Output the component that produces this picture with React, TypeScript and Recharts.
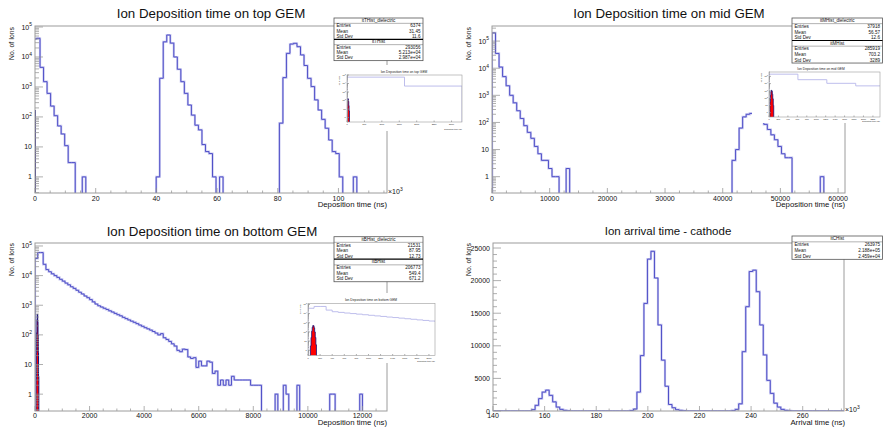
import React from 'react';
import { ComposedChart, Line, Area, XAxis, YAxis } from 'recharts';

const FONT = '"Liberation Sans", Arial, Helvetica, sans-serif';
const HIST = '#5050c8';
const HALO = '#c6c6ef';
const LAV = '#b7b7ea';
const NAVY = '#12127a';
const RED = '#ff0000';
const AXIS = '#8c8c8c';
const FRAME = '#9c9c9c';
const FLOOR = 1e-3;

// top GEM, x in 10^3 ns
const topBinStart = -0.66;
const topBinWidth = 1.16;
const topCounts = [
  40000, 42000, 4500, 1500, 610, 230, 110, 50, 27, 11,
  3, 3, 0, 0, 1, 0, 0, 0, 0, 0,
  0, 0, 0, 0, 0, 0, 0, 0, 0, 0,
  0, 0, 0, 0, 0, 1, 1950, 32000, 54000, 29000,
  10000, 3900, 1500, 610, 250, 115, 53, 37, 12, 7,
  6, 1, 0, 1, 0, 0, 0, 0, 0, 0,
  0, 0, 0, 0, 0, 0, 0, 0, 0, 0,
  62, 2050, 13200, 27000, 28600, 22000, 11700, 5200, 1940, 1030,
  370, 170, 83, 42, 17, 7, 6, 1, 0, 0,
  0, 1, 0, 0, 0, 0, 0, 0, 0, 0,
];
// dielectric part, x in ns
const topDielStart = 0;
const topDielWidth = 10;
const topDiel = [40, 110, 170, 150, 80, 25, 6];
// inset of the top pad (coarser binning, x in ns)
const topInsetStart = 0;
const topInsetWidth = 1650;
const topInsetCounts = [56000, 5000];

// mid GEM, x in ns
const midBinStart = 0;
const midBinWidth = 612;
const midCounts = [
  200000, 35000, 11000, 4900, 2250, 1000, 530, 270, 140, 76,
  43, 26, 13, 7, 4, 4, 2, 1, 1, 0,
  0, 2, 0, 0, 0, 0, 0, 0, 0, 0,
  0, 0, 0, 0, 0, 0, 0, 0, 0, 0,
  0, 0, 0, 0, 0, 0, 0, 0, 0, 0,
  0, 0, 0, 0, 0, 0, 0, 0, 0, 0,
  0, 0, 0, 0, 0, 0, 0, 0, 4, 10,
  62, 160, 200, 215, 250, 280, 180, 85, 55, 35,
  23, 13, 7, 5, 5, 0, 0, 0, 0, 0,
  0, 0, 0, 1, 0, 0, 0, 0, 0, 0,
];
const midDielStart = 20;
const midDielWidth = 10;
const midDiel = [30, 250, 800, 1200, 900, 350, 80, 10];

// bottom GEM, x in ns
const bottomBinStart = 0;
const bottomBinWidth = 100;
const bottomCounts = [
  38000, 60000, 60000, 24000, 16000, 13500, 11500, 10000, 8700, 7500,
  6500, 5600, 4900, 4200, 3700, 3200, 2750, 2400, 2050, 1800,
  1550, 1300, 1100, 960, 870, 790, 720, 650, 590, 530,
  480, 440, 390, 355, 320, 290, 265, 240, 215, 195,
  175, 160, 145, 130, 115, 100, 110, 80, 70, 60,
  50, 42, 30, 27, 33, 32, 18, 16, 17, 8,
  13, 9, 9, 13, 12, 5, 6, 2, 3, 2,
  3, 2, 4, 3, 3, 3, 3, 3, 3, 2,
  2, 2, 2, 0, 0, 0, 0, 0, 1, 0,
  0, 2, 1, 0, 0, 0, 2, 0, 0, 0,
  0, 0, 0, 0, 0, 0, 0, 0, 1, 1,
  0, 0, 0, 0, 0, 0, 0, 0, 0, 1,
  0, 0, 0, 0, 0, 0, 0, 0, 0,
];
const bottomDielStart = 40;
const bottomDielWidth = 10;
const bottomDiel = [3, 25, 120, 330, 500, 470, 280, 100, 25, 4];

// cathode, x in 10^3 ns
const cathBinStart = 140;
const cathBinWidth = 1.36;
const cathodeCounts = [
  0, 0, 0, 0, 0, 0, 0, 0, 0, 0,
  0, 200, 870, 1900, 2900, 3200, 2400, 1400, 600, 250,
  100, 30, 0, 0, 0, 0, 0, 0, 0, 0,
  0, 0, 0, 0, 0, 0, 0, 0, 0, 60,
  300, 2900, 8500, 16500, 23300, 24500, 20400, 13200, 7800, 3800,
  1000, 500, 200, 100, 30, 0, 0, 0, 0, 0,
  0, 0, 0, 0, 0, 0, 0, 0, 50, 250,
  1100, 9100, 16000, 21400, 21600, 18300, 13200, 8600, 4700, 2700,
  1200, 600, 250, 100, 30, 0, 0, 0, 0, 0,
  0, 0, 0, 0, 0, 0, 0, 0, 0, 0,
];

const topXTicks = [0, 20, 40, 60, 80, 100];
const midXTicks = [0, 10000, 20000, 30000, 40000, 50000, 60000];
const bottomXTicks = [0, 2000, 4000, 6000, 8000, 10000, 12000];
const cathXTicks = [140, 160, 180, 200, 220, 240, 260];
const cathYTicks = [0, 5000, 10000, 15000, 20000, 25000];
const logYTicks = [1, 10, 100, 1000, 10000, 100000];

const statsTop = [
  { title: 'itTHist_dielectric', rows: [['Entries', '6374'], ['Mean', '31.45'], ['Std Dev', '11.6']] },
  { title: 'itTHist', rows: [['Entries', '293056'], ['Mean', '5.213e+04'], ['Std Dev', '2.987e+04']] },
];
const statsMid = [
  { title: 'itMHist_dielectric', rows: [['Entries', '37918'], ['Mean', '56.57'], ['Std Dev', '12.6']] },
  { title: 'itMHist', rows: [['Entries', '285919'], ['Mean', '703.2'], ['Std Dev', '3289']] },
];
const statsBottom = [
  { title: 'itBHist_dielectric', rows: [['Entries', '21531'], ['Mean', '87.95'], ['Std Dev', '12.73']] },
  { title: 'itBHist', rows: [['Entries', '206773'], ['Mean', '549.4'], ['Std Dev', '671.2']] },
];
const statsCath = [
  { title: 'itCHist', rows: [['Entries', '263975'], ['Mean', '2.188e+05'], ['Std Dev', '2.459e+04']] },
];

type Pt = { x: number; y: number };

function steps(start: number, width: number, counts: number[], scale = 1, floor = FLOOR): Pt[] {
  const pts: Pt[] = [{ x: start * scale, y: floor }];
  counts.forEach((c, i) => pts.push({ x: (start + i * width) * scale, y: c > 0 ? c : floor }));
  pts.push({ x: (start + counts.length * width) * scale, y: floor });
  return pts;
}

function linMinors(a: number, b: number, s: number, majors: number[]) {
  const out: number[] = [];
  for (let i = 0; a + i * s <= b + 1e-9; i++) {
    const v = +(a + i * s).toFixed(6);
    if (!majors.includes(v)) out.push(v);
  }
  return out;
}

function logMinors(lo: number, hi: number) {
  const out: number[] = [];
  for (let e = -1; e <= 6; e++)
    for (let m = 2; m <= 9; m++) {
      const v = +(m * Math.pow(10, e)).toPrecision(3);
      if (v >= lo && v <= hi) out.push(v);
    }
  return out;
}

type TickCfg = { edge: number; majors: number[]; font: number; majorLen: number; minorLen: number; off: number; log?: boolean };

function logLabel(v: number, font: number) {
  if (v === 1) return '1';
  if (v === 10) return '10';
  const e = Math.round(Math.log10(v));
  return [
    <tspan key="b">10</tspan>,
    <tspan key="e" dy={-font * 0.45} fontSize={font * 0.7}>{e}</tspan>,
  ];
}

function YTick(props: any) {
  const { y, payload, cfg } = props as { y: number; payload: { value: number }; cfg: TickCfg };
  const v = payload.value;
  const major = cfg.majors.includes(v);
  const len = major ? cfg.majorLen : cfg.minorLen;
  return (
    <g>
      {len > 0 && <line x1={cfg.edge} x2={cfg.edge + len} y1={y} y2={y} stroke={AXIS} strokeWidth={0.7} />}
      {major && (
        <text x={cfg.edge - cfg.off} y={y + cfg.font * 0.36} textAnchor="end" fontSize={cfg.font} fontFamily={FONT} fill="#111">
          {cfg.log ? logLabel(v, cfg.font) : v}
        </text>
      )}
    </g>
  );
}

function XTick(props: any) {
  const { x, payload, cfg } = props as { x: number; payload: { value: number }; cfg: TickCfg };
  const v = payload.value;
  const major = cfg.majors.includes(v);
  const len = major ? cfg.majorLen : cfg.minorLen;
  return (
    <g>
      {len > 0 && <line x1={x} x2={x} y1={cfg.edge} y2={cfg.edge - len} stroke={AXIS} strokeWidth={0.7} />}
      {major && (
        <text x={x} y={cfg.edge + cfg.off} textAnchor="middle" fontSize={cfg.font} fontFamily={FONT} fill="#111">
          {v}
        </text>
      )}
    </g>
  );
}

type Box = { l: number; t: number; r: number; b: number };

type PanelProps = {
  left: number; top: number; width: number; height: number; plot: Box;
  xDomain: [number, number]; xMajors: number[]; xMinorStep: number;
  yDomain: [number, number]; yLog: boolean; yMajors: number[]; yMinorStep?: number;
  xOff: number; main: Pt[]; diel?: Pt[];
};

function Panel(p: PanelProps) {
  const L = p.plot.l - p.left, T = p.plot.t - p.top, R = p.plot.r - p.left, B = p.plot.b - p.top;
  const xt = [...p.xMajors, ...linMinors(p.xDomain[0], p.xDomain[1], p.xMinorStep, p.xMajors)];
  const yMinor = p.yLog
    ? logMinors(p.yDomain[0], p.yDomain[1])
    : linMinors(p.yDomain[0], p.yDomain[1], p.yMinorStep || 1, p.yMajors);
  const yt = [...p.yMajors, ...yMinor];
  const xcfg: TickCfg = { edge: B, majors: p.xMajors, font: 7, majorLen: 5, minorLen: 2.5, off: p.xOff };
  const ycfg: TickCfg = { edge: L, majors: p.yMajors, font: 7, majorLen: 8, minorLen: 4, off: 3, log: p.yLog };
  return (
    <div style={{ position: 'absolute', left: p.left, top: p.top }}>
      <ComposedChart width={p.width} height={p.height} margin={{ top: T, right: p.width - R, bottom: 0, left: 0 }}>
        <XAxis type="number" dataKey="x" domain={p.xDomain} allowDataOverflow ticks={xt} interval={0}
          height={p.height - B} axisLine={false} tickLine={false} tick={(t: any) => <XTick {...t} cfg={xcfg} />} />
        <YAxis type="number" scale={p.yLog ? 'log' : 'linear'} domain={p.yDomain} allowDataOverflow ticks={yt} interval={0}
          width={L} axisLine={false} tickLine={false} tick={(t: any) => <YTick {...t} cfg={ycfg} />} />
        <Line data={p.main} dataKey="y" type="stepAfter" stroke={HALO} strokeWidth={2.2} dot={false} isAnimationActive={false} />
        <Line data={p.main} dataKey="y" type="stepAfter" stroke={HIST} strokeWidth={1} dot={false} isAnimationActive={false} />
        {p.diel && (
          <Area data={p.diel} dataKey="y" type="stepAfter" stroke={NAVY} strokeWidth={1} fill={RED} fillOpacity={1}
            baseValue={p.yDomain[0]} isAnimationActive={false} />
        )}
      </ComposedChart>
    </div>
  );
}

type InsetProps = {
  left: number; top: number; width: number; height: number; frame: Box; title: string; titleX: number;
  xDomain: [number, number]; xMajors: number[]; yDomain: [number, number]; main: Pt[]; diel: Pt[];
};

function Inset(p: InsetProps) {
  const L = p.frame.l - p.left, T = p.frame.t - p.top, R = p.frame.r - p.left, B = p.frame.b - p.top;
  const ym = logYTicks.filter((v) => v >= p.yDomain[0] && v <= p.yDomain[1]);
  const xcfg: TickCfg = { edge: B, majors: p.xMajors, font: 2.2, majorLen: 1.5, minorLen: 0, off: 3 };
  const ycfg: TickCfg = { edge: L, majors: ym, font: 2.2, majorLen: 2, minorLen: 1, off: 1.2, log: true };
  return (
    <div style={{ position: 'absolute', left: p.left, top: p.top, width: p.width, height: p.height, background: '#fff' }}>
      <ComposedChart width={p.width} height={p.height} margin={{ top: T, right: p.width - R, bottom: 0, left: 0 }}>
        <XAxis type="number" dataKey="x" domain={p.xDomain} allowDataOverflow ticks={p.xMajors} interval={0}
          height={p.height - B} axisLine={false} tickLine={false} tick={(t: any) => <XTick {...t} cfg={xcfg} />} />
        <YAxis type="number" scale="log" domain={p.yDomain} allowDataOverflow
          ticks={[...ym, ...logMinors(p.yDomain[0], p.yDomain[1])]} interval={0}
          width={L} axisLine={false} tickLine={false} tick={(t: any) => <YTick {...t} cfg={ycfg} />} />
        <Line data={p.main} dataKey="y" type="stepAfter" stroke={LAV} strokeWidth={0.9} dot={false} isAnimationActive={false} />
        <Area data={p.diel} dataKey="y" type="stepAfter" stroke={NAVY} strokeWidth={0.8} fill={RED} fillOpacity={1}
          baseValue={p.yDomain[0]} isAnimationActive={false} />
      </ComposedChart>
      <svg style={{ position: 'absolute', left: 0, top: 0, pointerEvents: 'none' }} width={p.width} height={p.height}>
        <rect x={L} y={T} width={R - L} height={B - T} fill="none" stroke={FRAME} strokeWidth={0.6} />
        <text x={p.titleX - p.left} y={T - 2.5} textAnchor="middle" fontSize={3.3} fontFamily={FONT} fill="#222">{p.title}</text>
        <text transform={`translate(${L - 7},${T + 1}) rotate(-90)`} textAnchor="end" fontSize={2} fontFamily={FONT} fill="#222">No. of Ions</text>
        <text x={R} y={p.height - 0.6} textAnchor="end" fontSize={2} fontFamily={FONT} fill="#222">Deposition time (ns)</text>
      </svg>
    </div>
  );
}

type Section = { title: string; rows: string[][] };

function StatsBox({ x, y, w, rowH, sections }: { x: number; y: number; w: number; rowH: number; sections: Section[] }) {
  const els: React.ReactNode[] = [];
  let cy = y;
  const fs = 4.6;
  sections.forEach((s, si) => {
    if (si > 0) els.push(<line key={`d${si}`} x1={x} x2={x + w} y1={cy} y2={cy} stroke="#000" strokeWidth={1.2} />);
    els.push(<text key={`h${si}`} x={x + w / 2} y={cy + rowH * 0.76} textAnchor="middle" fontSize={fs}>{s.title}</text>);
    cy += rowH;
    els.push(<line key={`u${si}`} x1={x} x2={x + w} y1={cy} y2={cy} stroke="#666" strokeWidth={0.5} />);
    s.rows.forEach(([k, v], ri) => {
      els.push(<text key={`k${si}${ri}`} x={x + 2.5} y={cy + rowH * 0.76} fontSize={fs}>{k}</text>);
      els.push(<text key={`v${si}${ri}`} x={x + w - 2.5} y={cy + rowH * 0.76} textAnchor="end" fontSize={fs}>{v}</text>);
      cy += rowH;
    });
  });
  return (
    <g fontFamily={FONT} fill="#111">
      <rect x={x} y={y} width={w} height={cy - y} fill="#fff" stroke="#555" strokeWidth={0.8} />
      {els}
    </g>
  );
}

function YTitle({ x, y }: { x: number; y: number }) {
  return (
    <text transform={`translate(${x},${y}) rotate(-90)`} textAnchor="end" fontSize={6.8} fontFamily={FONT} fill="#111">
      No. of Ions
    </text>
  );
}

function Times3({ x, y }: { x: number; y: number }) {
  return (
    <text x={x} y={y} fontSize={7} fontFamily={FONT} fill="#111">
      ×10<tspan dy={-3} fontSize={5}>3</tspan>
    </text>
  );
}

const P1: Box = { l: 35, t: 26, r: 387, b: 193 };
const P2: Box = { l: 492, t: 26, r: 845, b: 193 };
const P3: Box = { l: 35, t: 243, r: 387, b: 411 };
const P4: Box = { l: 493, t: 243, r: 844, b: 411 };

export default function App() {
  const topMain = steps(topBinStart, topBinWidth, topCounts);
  const topDielK = steps(topDielStart, topDielWidth, topDiel, 0.001);
  const topInset = steps(topInsetStart, topInsetWidth, topInsetCounts);
  const topDielNs = steps(topDielStart, topDielWidth, topDiel);
  const midMain = steps(midBinStart, midBinWidth, midCounts);
  const midDielNs = steps(midDielStart, midDielWidth, midDiel);
  const botMain = steps(bottomBinStart, bottomBinWidth, bottomCounts);
  const botDielNs = steps(bottomDielStart, bottomDielWidth, bottomDiel);
  const cathMain = steps(cathBinStart, cathBinWidth, cathodeCounts, 1, 0);

  const frames = [P1, P2, P3, P4];
  return (
    <div style={{ position: 'relative', width: 883, height: 427, background: '#fff', overflow: 'hidden' }}>
      <style>{'body{margin:0;background:#fff}'}</style>
      <Panel left={0} top={0} width={440} height={210} plot={P1} xDomain={[0, 116]} xMajors={topXTicks} xMinorStep={5}
        yDomain={[0.29, 108000]} yLog yMajors={logYTicks} xOff={7.5} main={topMain} diel={topDielK} />
      <Panel left={440} top={0} width={443} height={210} plot={P2} xDomain={[0, 61200]} xMajors={midXTicks} xMinorStep={2500}
        yDomain={[0.25, 360000]} yLog yMajors={logYTicks} xOff={7.5} main={midMain} diel={midDielNs} />
      <Panel left={0} top={210} width={440} height={217} plot={P3} xDomain={[0, 12900]} xMajors={bottomXTicks} xMinorStep={500}
        yDomain={[0.27, 126000]} yLog yMajors={logYTicks} xOff={6.5} main={botMain} diel={botDielNs} />
      <Panel left={440} top={210} width={443} height={217} plot={P4} xDomain={[140, 276]} xMajors={cathXTicks} xMinorStep={5}
        yDomain={[0, 25770]} yLog={false} yMajors={cathYTicks} yMinorStep={1000} xOff={7} main={cathMain} />

      <svg style={{ position: 'absolute', left: 0, top: 0, pointerEvents: 'none' }} width={883} height={427}>
        {frames.map((f, i) => (
          <rect key={i} x={f.l} y={f.t} width={f.r - f.l} height={f.b - f.t} fill="none" stroke={FRAME} strokeWidth={1} />
        ))}
        <g fontFamily={FONT} fill="#111" textAnchor="middle">
          <text x={211} y={17.5} fontSize={13.3}>Ion Deposition time on top GEM</text>
          <text x={669} y={17.5} fontSize={13.3}>Ion Deposition time on mid GEM</text>
          <text x={212} y={235.5} fontSize={13.3}>Ion Deposition time on bottom GEM</text>
          <text x={668} y={234.5} fontSize={11.5}>Ion arrival time - cathode</text>
        </g>
        <YTitle x={14} y={27} />
        <YTitle x={471} y={27} />
        <YTitle x={14} y={243} />
        <YTitle x={471} y={243} />
        <g fontFamily={FONT} fill="#111" textAnchor="end" fontSize={7.8}>
          <text x={387} y={206.8}>Deposition time (ns)</text>
          <text x={845} y={206.8}>Deposition time (ns)</text>
          <text x={387} y={424.8}>Deposition time (ns)</text>
          <text x={845} y={424.8}>Arrival time (ns)</text>
        </g>
        <Times3 x={388} y={194} />
        <Times3 x={845} y={412} />
      </svg>

      <Inset left={337} top={65} width={128} height={66} frame={{ l: 347, t: 75, r: 462, b: 122 }}
        title="Ion Deposition time on top GEM" titleX={404} xDomain={[0, 3300]} xMajors={[0, 500, 1000, 1500, 2000, 2500, 3000]}
        yDomain={[0.3, 100000]} main={topInset} diel={topDielNs} />
      <Inset left={752} top={63} width={131} height={60} frame={{ l: 769, t: 72, r: 880, b: 117 }}
        title="Ion Deposition time on mid GEM" titleX={821} xDomain={[0, 2350]}
        xMajors={[0, 200, 400, 600, 800, 1000, 1200, 1400, 1600, 1800, 2000, 2200]}
        yDomain={[0.25, 400000]} main={midMain} diel={midDielNs} />
      <Inset left={296} top={293} width={142} height={70} frame={{ l: 308, t: 303.5, r: 435, b: 355.5 }}
        title="Ion Deposition time on bottom GEM" titleX={371} xDomain={[0, 2100]}
        xMajors={[0, 200, 400, 600, 800, 1000, 1200, 1400, 1600, 1800, 2000]}
        yDomain={[0.27, 126000]} main={botMain} diel={botDielNs} />

      <svg style={{ position: 'absolute', left: 0, top: 0, pointerEvents: 'none' }} width={883} height={427}>
        <StatsBox x={334} y={18} w={89} rowH={5.33} sections={statsTop} />
        <StatsBox x={792} y={18} w={90.5} rowH={5.63} sections={statsMid} />
        <StatsBox x={334} y={236.7} w={89} rowH={5.63} sections={statsBottom} />
        <StatsBox x={792} y={236} w={90.5} rowH={5.83} sections={statsCath} />
      </svg>
    </div>
  );
}
